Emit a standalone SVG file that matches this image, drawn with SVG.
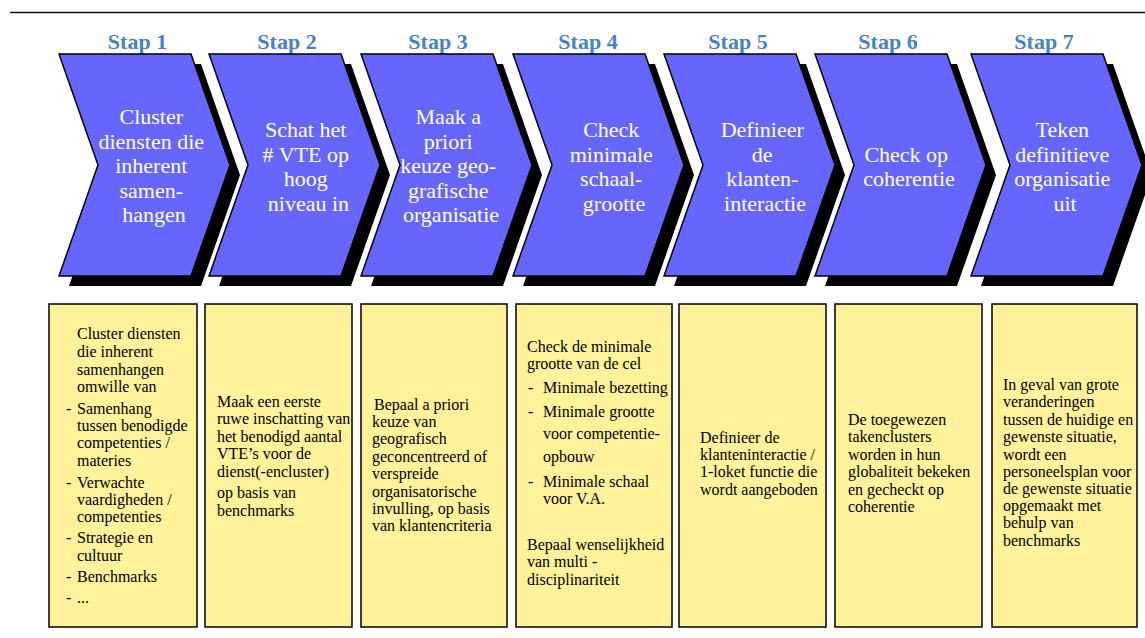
<svg xmlns="http://www.w3.org/2000/svg" xmlns:xlink="http://www.w3.org/1999/xlink" width="1145" height="638" viewBox="0 0 1145 638">
  <style>
    text { font-family: 'Liberation Serif', 'DejaVu Serif', serif; }
    .step { font-weight: bold; font-size: 22px; fill: #4682C8; text-anchor: middle; }
    .chev { fill: #6666FF; stroke: #000; stroke-width: 1.5; stroke-linejoin: miter; }
    .shadow { fill: #000; }
    .ctext { font-size: 22px; fill: #fff; text-anchor: middle; }
    .box { fill: #FFF29B; stroke: #000; stroke-width: 1.5; }
    .btext { font-size: 16px; fill: #000; }
  </style>
  <defs>
    <!-- arrow-shaped step header, local origin at its top-left corner -->
    <path id="chevron" d="M0,0 H132 L171,111 L132,222 H0 L39,111 Z"/>
  </defs>

  <rect width="1145" height="638" fill="#fff"/>
  <line x1="10" y1="12.5" x2="1145" y2="12.5" stroke="#111" stroke-width="1.5"/>

  <!-- step headers -->
  <g id="step1">
    <text class="step" x="137.5" y="49">Stap 1</text>
    <use xlink:href="#chevron" class="shadow" transform="translate(69,64)"/>
    <use xlink:href="#chevron" class="chev" transform="translate(59,54)"/>
    <text class="ctext">
      <tspan x="154" y="124">Cluster</tspan>
      <tspan x="154" y="148.5">diensten die</tspan>
      <tspan x="154" y="173">inherent</tspan>
      <tspan x="154" y="197.5">samen-</tspan>
      <tspan x="154" y="222">hangen</tspan>
    </text>
  </g>

  <g id="step2">
    <text class="step" x="287" y="49">Stap 2</text>
    <use xlink:href="#chevron" class="shadow" transform="translate(219,64)"/>
    <use xlink:href="#chevron" class="chev" transform="translate(209,54)"/>
    <text class="ctext">
      <tspan x="308.5" y="137">Schat het</tspan>
      <tspan x="308.5" y="161.5"># VTE op</tspan>
      <tspan x="308.5" y="186">hoog</tspan>
      <tspan x="308.5" y="210.5">niveau in</tspan>
    </text>
  </g>

  <g id="step3">
    <text class="step" x="438" y="49">Stap 3</text>
    <use xlink:href="#chevron" class="shadow" transform="translate(371,64)"/>
    <use xlink:href="#chevron" class="chev" transform="translate(361,54)"/>
    <text class="ctext">
      <tspan x="451" y="124">Maak a</tspan>
      <tspan x="451" y="148.5">priori</tspan>
      <tspan x="451" y="173">keuze geo-</tspan>
      <tspan x="451" y="197.5">grafische</tspan>
      <tspan x="451" y="222">organisatie</tspan>
    </text>
  </g>

  <g id="step4">
    <text class="step" x="588" y="49">Stap 4</text>
    <use xlink:href="#chevron" class="shadow" transform="translate(523,64)"/>
    <use xlink:href="#chevron" class="chev" transform="translate(513,54)"/>
    <text class="ctext">
      <tspan x="614" y="137">Check</tspan>
      <tspan x="614" y="161.5">minimale</tspan>
      <tspan x="614" y="186">schaal-</tspan>
      <tspan x="614" y="210.5">grootte</tspan>
    </text>
  </g>

  <g id="step5">
    <text class="step" x="738" y="49">Stap 5</text>
    <use xlink:href="#chevron" class="shadow" transform="translate(674,64)"/>
    <use xlink:href="#chevron" class="chev" transform="translate(664,54)"/>
    <text class="ctext">
      <tspan x="765" y="137">Definieer</tspan>
      <tspan x="765" y="161.5">de</tspan>
      <tspan x="765" y="186">klanten-</tspan>
      <tspan x="765" y="210.5">interactie</tspan>
    </text>
  </g>

  <g id="step6">
    <text class="step" x="888" y="49">Stap 6</text>
    <use xlink:href="#chevron" class="shadow" transform="translate(825,64)"/>
    <use xlink:href="#chevron" class="chev" transform="translate(815,54)"/>
    <text class="ctext">
      <tspan x="909" y="161.5">Check op</tspan>
      <tspan x="909" y="186">coherentie</tspan>
    </text>
  </g>

  <g id="step7">
    <text class="step" x="1044" y="49">Stap 7</text>
    <use xlink:href="#chevron" class="shadow" transform="translate(981,64)"/>
    <use xlink:href="#chevron" class="chev" transform="translate(971,54)"/>
    <text class="ctext">
      <tspan x="1065" y="137">Teken</tspan>
      <tspan x="1065" y="161.5">definitieve</tspan>
      <tspan x="1065" y="186">organisatie</tspan>
      <tspan x="1065" y="210.5">uit</tspan>
    </text>
  </g>

  <!-- description boxes -->
  <g id="box1">
    <rect class="box" x="49" y="304" width="148" height="323"/>
    <text class="btext">
      <tspan x="77" y="339">Cluster diensten</tspan>
      <tspan x="77" y="357">die inherent</tspan>
      <tspan x="77" y="375">samenhangen</tspan>
      <tspan x="77" y="392">omwille van</tspan>
      <tspan x="66" y="414">-</tspan><tspan x="77">Samenhang</tspan>
      <tspan x="77" y="431">tussen benodigde</tspan>
      <tspan x="77" y="448">competenties /</tspan>
      <tspan x="77" y="466">materies</tspan>
      <tspan x="66" y="488">-</tspan><tspan x="77">Verwachte</tspan>
      <tspan x="77" y="505">vaardigheden /</tspan>
      <tspan x="77" y="522">competenties</tspan>
      <tspan x="66" y="543">-</tspan><tspan x="77">Strategie en</tspan>
      <tspan x="77" y="561">cultuur</tspan>
      <tspan x="66" y="582">-</tspan><tspan x="77">Benchmarks</tspan>
      <tspan x="66" y="603">-</tspan><tspan x="77">...</tspan>
    </text>
  </g>

  <g id="box2">
    <rect class="box" x="205" y="304" width="147" height="323"/>
    <text class="btext">
      <tspan x="217" y="407">Maak een eerste</tspan>
      <tspan x="217" y="424">ruwe inschatting van</tspan>
      <tspan x="217" y="442">het benodigd aantal</tspan>
      <tspan x="217" y="459">VTE’s voor de</tspan>
      <tspan x="217" y="477">dienst(-encluster)</tspan>
      <tspan x="217" y="498">op basis van</tspan>
      <tspan x="217" y="516">benchmarks</tspan>
    </text>
  </g>

  <g id="box3">
    <rect class="box" x="361" y="304" width="146" height="323"/>
    <text class="btext">
      <tspan x="374" y="410">Bepaal a priori</tspan>
      <tspan x="372" y="427">keuze van</tspan>
      <tspan x="372" y="444">geografisch</tspan>
      <tspan x="372" y="462">geconcentreerd of</tspan>
      <tspan x="372" y="479">verspreide</tspan>
      <tspan x="372" y="497">organisatorische</tspan>
      <tspan x="372" y="514">invulling, op basis</tspan>
      <tspan x="372" y="531">van klantencriteria</tspan>
    </text>
  </g>

  <g id="box4">
    <rect class="box" x="516" y="304" width="156" height="323"/>
    <text class="btext">
      <tspan x="527" y="352">Check de minimale</tspan>
      <tspan x="527" y="369">grootte van de cel</tspan>
      <tspan x="528" y="393">-</tspan><tspan x="543">Minimale bezetting</tspan>
      <tspan x="528" y="417">-</tspan><tspan x="543">Minimale grootte</tspan>
      <tspan x="543" y="439">voor competentie-</tspan>
      <tspan x="543" y="462">opbouw</tspan>
      <tspan x="528" y="487">-</tspan><tspan x="543">Minimale schaal</tspan>
      <tspan x="543" y="504">voor V.A.</tspan>
      <tspan x="527" y="550">Bepaal wenselijkheid</tspan>
      <tspan x="527" y="567">van multi -</tspan>
      <tspan x="527" y="585">disciplinariteit</tspan>
    </text>
  </g>

  <g id="box5">
    <rect class="box" x="679" y="304" width="147" height="323"/>
    <text class="btext">
      <tspan x="700" y="443">Definieer de</tspan>
      <tspan x="700" y="460">klanteninteractie /</tspan>
      <tspan x="700" y="477">1-loket functie die</tspan>
      <tspan x="700" y="495">wordt aangeboden</tspan>
    </text>
  </g>

  <g id="box6">
    <rect class="box" x="835" y="304" width="147" height="323"/>
    <text class="btext">
      <tspan x="848" y="425">De toegewezen</tspan>
      <tspan x="848" y="442">takenclusters</tspan>
      <tspan x="848" y="460">worden in hun</tspan>
      <tspan x="848" y="477">globaliteit bekeken</tspan>
      <tspan x="848" y="495">en gecheckt op</tspan>
      <tspan x="848" y="512">coherentie</tspan>
    </text>
  </g>

  <g id="box7">
    <rect class="box" x="992" y="304" width="145" height="323"/>
    <text class="btext">
      <tspan x="1003" y="390">In geval van grote</tspan>
      <tspan x="1003" y="407">veranderingen</tspan>
      <tspan x="1003" y="425">tussen de huidige en</tspan>
      <tspan x="1003" y="442">gewenste situatie,</tspan>
      <tspan x="1003" y="460">wordt een</tspan>
      <tspan x="1003" y="477">personeelsplan voor</tspan>
      <tspan x="1003" y="494">de gewenste situatie</tspan>
      <tspan x="1003" y="511">opgemaakt met</tspan>
      <tspan x="1003" y="528">behulp van</tspan>
      <tspan x="1003" y="546">benchmarks</tspan>
    </text>
  </g>

  <!-- no connectors: the steps are linked by their arrow shapes -->
  <g id="connectors"/>
</svg>
